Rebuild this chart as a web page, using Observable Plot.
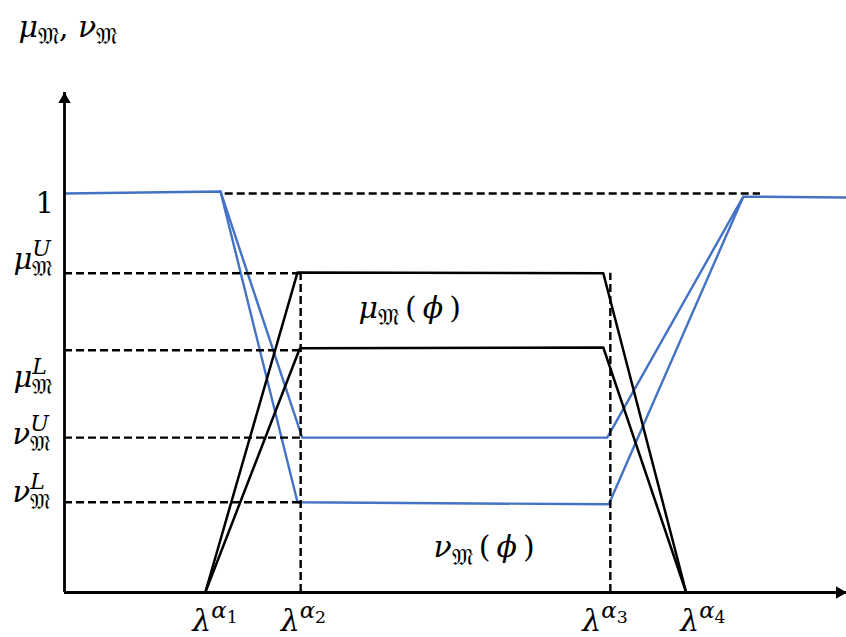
<!DOCTYPE html>
<html><head><meta charset="utf-8">
<script src="https://cdn.jsdelivr.net/npm/d3@7"></script>
<script src="https://cdn.jsdelivr.net/npm/@observablehq/plot@0.6"></script>
<style>body{margin:0;background:#fff}</style>
</head><body><div id="chart"></div>
<script>
// ---------- data ----------
const lambdaX = [18.0, 30.2, 69.8, 79.5];
const lambdaLabels = ["λ^{α_1}", "λ^{α_2}", "λ^{α_3}", "λ^{α_4}"];
const levelY = [1, 0.80, 0.607, 0.388, 0.226];
const levelLabels = ["1", "μ^U_𝔐", "μ^L_𝔐", "ν^U_𝔐", "ν^L_𝔐"];

const muUpperX = [18.0, 29.8, 68.9, 79.5];
const muUpperY = [0, 0.802, 0.800, 0];
const muLowerX = [18.0, 30.1, 68.9, 79.5];
const muLowerY = [0, 0.612, 0.614, 0];
const nuUpperX = [0, 19.95, 30.4, 69.4, 86.8, 100];
const nuUpperY = [1.0, 1.005, 0.388, 0.388, 0.992, 0.990];
const nuLowerX = [19.95, 29.8, 69.6, 86.8];
const nuLowerY = [1.005, 0.226, 0.221, 0.992];

const axisLabel = "μ_𝔐, ν_𝔐";
const muLabel = "μ_𝔐\u2009(\u2009ϕ\u2009)";
const nuLabel = "ν_𝔐\u2009(\u2009ϕ\u2009)";
const muLabelAt = [37.6, 0.712];
const nuLabelAt = [47.2, 0.113];
const unitDashEnd = 89;

const X_MAX = 100, Y_TOP = 1.253;

// ---------- styles ----------
const BLUE = "#4472C4";
const FS = 29;
const levelDx = [-29, -51, -51, -52, -52];
const levelDy = [10, -14, 27, -3, -10];
const lambdaDx = [-13, -20, -28, -6];
const dash = "8,4";

const series = (xs, ys) => d3.range(xs.length).map(i => ({x: xs[i], y: ys[i]}));

const marks = [
  Plot.line(series(nuUpperX, nuUpperY), {x: "x", y: "y", stroke: BLUE, strokeWidth: 2.4}),
  Plot.line(series(nuLowerX, nuLowerY), {x: "x", y: "y", stroke: BLUE, strokeWidth: 2.4}),
  Plot.ruleY(levelY.slice(1), {x1: 0, x2: lambdaX[1], stroke: "black", strokeWidth: 2.4, strokeDasharray: dash}),
  Plot.ruleY([levelY[0]], {x1: nuUpperX[1] + 0.6, x2: unitDashEnd, stroke: "black", strokeWidth: 2.4, strokeDasharray: dash}),
  Plot.ruleX([lambdaX[1], lambdaX[2]], {y1: 0, y2: levelY[1], stroke: "black", strokeWidth: 2.4, strokeDasharray: dash}),
  Plot.line(series(muUpperX, muUpperY), {x: "x", y: "y", stroke: "black", strokeWidth: 2.5}),
  Plot.line(series(muLowerX, muLowerY), {x: "x", y: "y", stroke: "black", strokeWidth: 2.5}),
  Plot.ruleX([0], {y1: 0, y2: Y_TOP, stroke: "black", strokeWidth: 2.8}),
  Plot.ruleY([0], {x1: 0, x2: X_MAX, stroke: "black", strokeWidth: 2.8}),
  Plot.dot([0], {x: () => 0, y: () => Y_TOP, symbol: "triangle", r: 4.6, fill: "black", stroke: "none", dy: 7}),
  Plot.dot([0], {x: () => X_MAX, y: () => 0, symbol: "triangle", r: 4.6, fill: "black", stroke: "none", rotate: 90, dx: -7}),
  ...levelLabels.map((t, i) => Plot.text([i], {x: () => 0, y: () => levelY[i], text: () => t, textAnchor: "start", dx: levelDx[i], dy: levelDy[i], fontSize: FS})),
  ...lambdaLabels.map((t, i) => Plot.text([i], {x: () => lambdaX[i], y: () => 0, text: () => t, textAnchor: "start", dx: lambdaDx[i], dy: 29, fontSize: FS + 1})),
  Plot.text([0], {frameAnchor: "top-left", text: () => axisLabel, textAnchor: "start", dx: -46, dy: -77, fontSize: 30}),
  Plot.text([0], {x: () => muLabelAt[0], y: () => muLabelAt[1], text: () => muLabel, textAnchor: "start", fontSize: FS + 1}),
  Plot.text([0], {x: () => nuLabelAt[0], y: () => nuLabelAt[1], text: () => nuLabel, textAnchor: "start", fontSize: FS + 1})
];

const svg = Plot.plot({
  width: 846, height: 637,
  marginLeft: 64, marginRight: 0, marginTop: 92, marginBottom: 45,
  x: {domain: [0, X_MAX], axis: null},
  y: {domain: [0, Y_TOP], axis: null},
  style: {fontFamily: "'DejaVu Serif', serif", background: "white", overflow: "visible"},
  marks
});
document.getElementById("chart").appendChild(svg);

// ---------- math markup -> tspans ----------
function parse(chars, pos, stopAtBrace) {
  const nodes = [];
  let buf = "";
  const flush = () => { if (buf) { nodes.push({type: "text", s: buf}); buf = ""; } };
  while (pos.i < chars.length) {
    const c = chars[pos.i];
    if (c === "}" && stopAtBrace) { pos.i++; break; }
    if (c === "^" || c === "_") {
      flush(); pos.i++;
      let children;
      if (chars[pos.i] === "{") { pos.i++; children = parse(chars, pos, true); }
      else { children = [{type: "text", s: chars[pos.i]}]; pos.i++; }
      nodes.push({type: c === "^" ? "sup" : "sub", children});
    } else { buf += c; pos.i++; }
  }
  flush();
  return nodes;
}
const SCALE = 0.76;
function toRuns(nodes, level, shift, base, runs) {
  for (let k = 0; k < nodes.length; k++) {
    const n = nodes[k];
    if (n.type === "text") { runs.push({s: n.s, level, shift}); n._runs = [runs[runs.length - 1]]; }
    else {
      const sz = base * Math.pow(SCALE, level);
      const ns = shift + (n.type === "sup" ? 0.45 * sz : -0.25 * sz);
      const start = runs.length;
      toRuns(n.children, level + 1, ns, base, runs);
      n._runs = runs.slice(start);
      if (n.type === "sub" && k > 0 && nodes[k - 1].type === "sup") n._runs[0].backOver = nodes[k - 1]._runs;
    }
  }
}
const isItalic = ch => /[A-Za-zα-ωΑ-Ωϕ]/.test(ch);
d3.select(svg).selectAll("text").each(function() {
  const el = this;
  const str = el.textContent;
  const base = parseFloat(getComputedStyle(el).fontSize) || FS;
  const nodes = parse(Array.from(str), {i: 0}, false);
  const runs = [];
  toRuns(nodes, 0, 0, base, runs);
  el.textContent = "";
  let prevShift = 0;
  for (const r of runs) {
    const size = base * Math.pow(SCALE, r.level);
    const pieces = [];
    for (const ch of Array.from(r.s)) {
      const it = isItalic(ch);
      if (pieces.length && pieces[pieces.length - 1].it === it) pieces[pieces.length - 1].s += ch;
      else pieces.push({s: ch, it});
    }
    r.tspans = [];
    pieces.forEach((p, j) => {
      const t = document.createElementNS("http://www.w3.org/2000/svg", "tspan");
      t.textContent = p.s;
      t.setAttribute("font-size", size);
      t.setAttribute("font-style", p.it ? "italic" : "normal");
      if (j === 0 && r.shift !== prevShift) t.setAttribute("dy", prevShift - r.shift);
      el.appendChild(t);
      r.tspans.push(t);
    });
    prevShift = r.shift;
  }
  for (const r of runs) {
    if (r.backOver) {
      let w = 0;
      for (const rr of r.backOver) for (const t of rr.tspans) w += t.getComputedTextLength();
      r.tspans[0].setAttribute("dx", -w);
    }
  }
});
</script>
</body></html>
